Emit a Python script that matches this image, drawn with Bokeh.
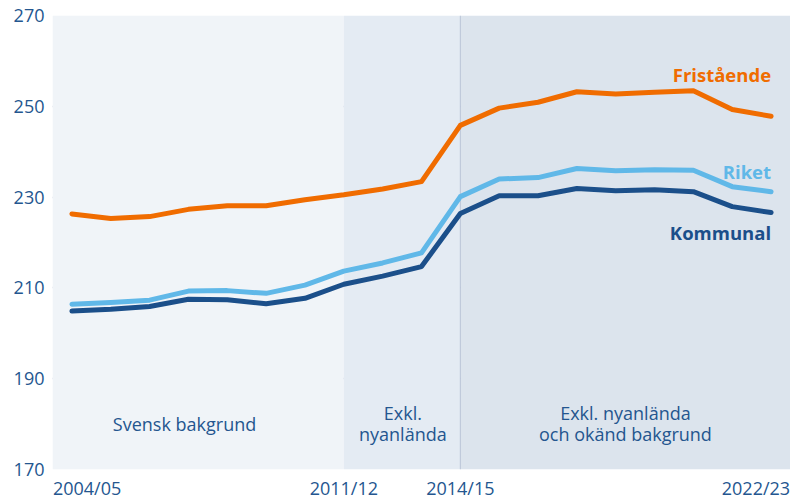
from bokeh.plotting import figure
from bokeh.models import Range1d, FixedTicker, ColumnDataSource
from bokeh.core.properties import value
from bokeh.embed import file_html
from bokeh.resources import INLINE

years = ["2004/05", "2005/06", "2006/07", "2007/08", "2008/09", "2009/10", "2010/11",
         "2011/12", "2012/13", "2013/14", "2014/15", "2015/16", "2016/17", "2017/18",
         "2018/19", "2019/20", "2020/21", "2021/22", "2022/23"]
fristaende = [226.3, 225.3, 225.7, 227.3, 228.1, 228.1, 229.4, 230.5, 231.8, 233.4,
              245.8, 249.6, 250.9, 253.2, 252.7, 253.1, 253.4, 249.3, 247.8]
riket = [206.4, 206.8, 207.3, 209.3, 209.4, 208.8, 210.6, 213.7, 215.5, 217.7,
         230.1, 234.0, 234.3, 236.3, 235.8, 236.0, 235.9, 232.3, 231.2]
kommunal = [204.9, 205.3, 205.9, 207.5, 207.4, 206.5, 207.7, 210.8, 212.6, 214.7,
            226.4, 230.3, 230.3, 231.9, 231.4, 231.6, 231.2, 227.9, 226.6]

y_ticks = [170, 190, 210, 230, 250, 270]
x_tick_labels = ["2004/05", "2011/12", "2014/15", "2022/23"]

region_start = [-0.5, 7, 10]
region_end = [7, 10, 18.5]
region_colors = ["#f0f4f8", "#e4ebf3", "#dce4ed"]
region_labels = ["Svensk bakgrund", "Exkl.\nnyanlända", "Exkl. nyanlända\noch okänd bakgrund"]

FONT = "Open Sans"
TICK_COLOR = "#24568f"

idx = list(range(len(years)))
x0, x1 = -0.5, 18.5

p = figure(width=790, height=502, output_backend="svg", toolbar_location=None,
           x_range=Range1d(x0, x1), y_range=Range1d(170, 270),
           min_border_left=52, min_border_right=0, min_border_top=15, min_border_bottom=32)
p.outline_line_color = None
p.background_fill_color = "white"

# shaded regions
p.quad(left=region_start, right=region_end, bottom=170, top=270,
       fill_color=region_colors, line_color=None)
p.segment(x0=[10], y0=[170], x1=[10], y1=[270], line_color="#b9c3d6", line_width=1)

# grid
p.xgrid.visible = False
p.ygrid.ticker = FixedTicker(ticks=y_ticks)
p.ygrid.grid_line_color = "#b0b5d0"
p.ygrid.grid_line_width = 1.5
p.ygrid.level = "underlay"

# lines
for ys, col in [(kommunal, "#1b4f8a"), (riket, "#60b8e8"), (fristaende, "#f06c00")]:
    p.line(idx, ys, line_color=col, line_width=5, line_cap="round", line_join="round")

# series labels
p.text(x=[18, 18, 18], y=[256.9, 235.7, 222.3], text=["Fristående", "Riket", "Kommunal"],
       text_color=["#f06c00", "#60b8e8", "#1b4f8a"], text_font=value(FONT),
       text_font_size="18.5px", text_font_style="bold", text_align="right",
       text_baseline="middle")

# region labels
src = ColumnDataSource(dict(x=[2.9, 8.52, 14.25], y=[180.1, 180.1, 180.1], t=region_labels))
p.text(x="x", y="y", text="t", source=src, text_color=TICK_COLOR, text_font=value(FONT),
       text_font_size="18px", text_align="center", text_baseline="middle",
       text_line_height=0.9)

# axes
p.yaxis.ticker = FixedTicker(ticks=y_ticks)
p.yaxis.axis_line_color = None
p.yaxis.major_tick_line_color = None
p.yaxis.minor_tick_line_color = None
p.yaxis.major_tick_out = 0
p.yaxis.major_label_standoff = 8
p.yaxis.major_label_text_font = FONT
p.yaxis.major_label_text_font_size = "18px"
p.yaxis.major_label_text_color = TICK_COLOR

# x labels: edge labels are kept inside the plot width (label centres half a label width in)
half_w = 0.89
x_tick_pos = [x0 + half_w, 7, 10, x1 - half_w]
p.xaxis.ticker = FixedTicker(ticks=x_tick_pos)
p.xaxis.major_label_overrides = {t: s for t, s in zip(x_tick_pos, x_tick_labels)}
p.xaxis.axis_line_color = None
p.xaxis.major_tick_line_color = None
p.xaxis.minor_tick_line_color = None
p.xaxis.major_tick_out = 0
p.xaxis.major_label_standoff = 6
p.xaxis.major_label_text_font = FONT
p.xaxis.major_label_text_font_size = "18px"
p.xaxis.major_label_text_color = TICK_COLOR

open("out.html", "w").write(file_html(p, INLINE))
